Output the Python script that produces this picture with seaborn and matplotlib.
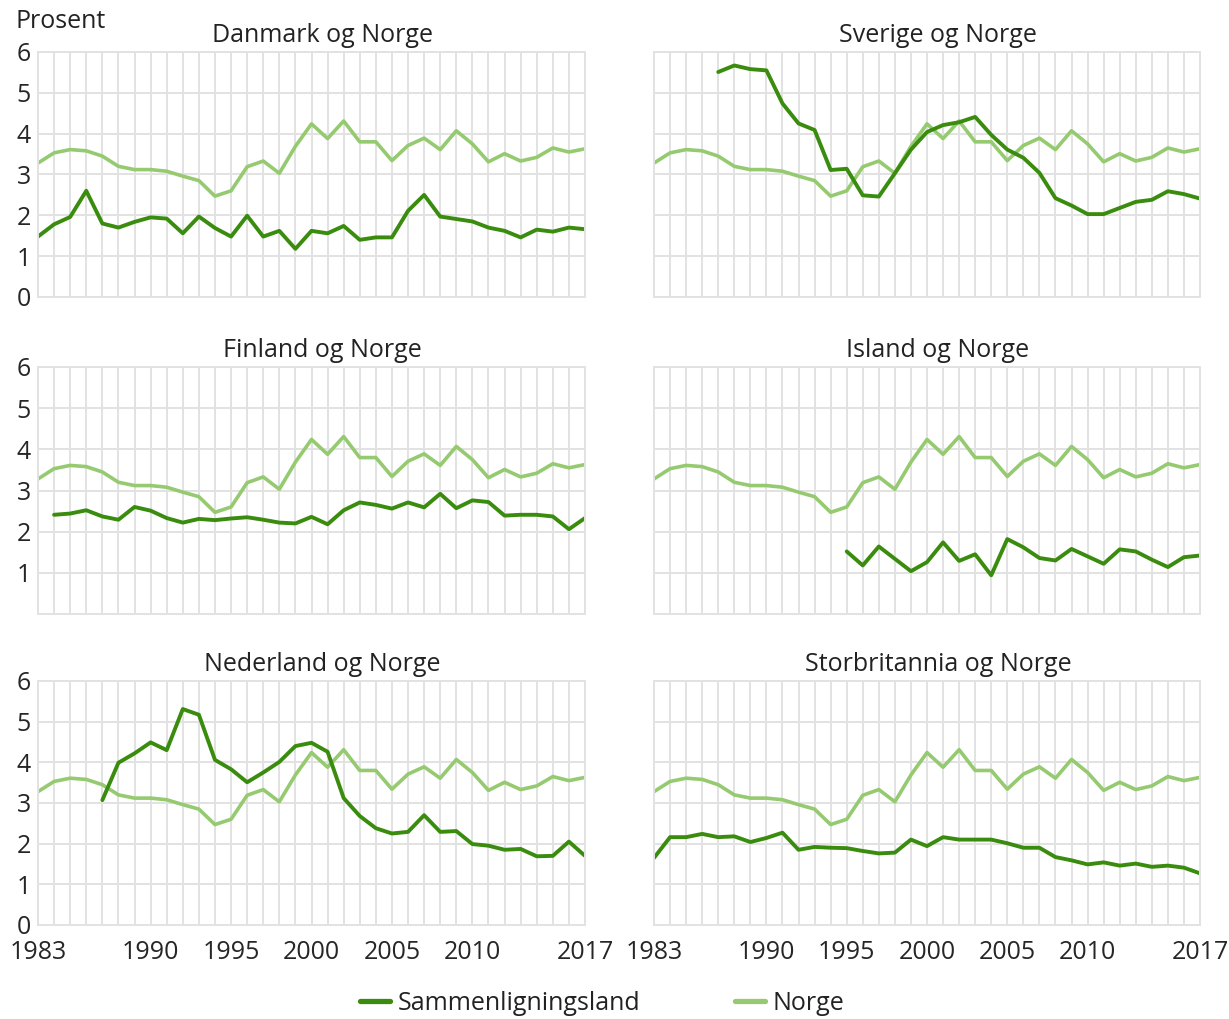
import numpy as np
import pandas as pd
import seaborn as sns
import matplotlib.pyplot as plt

# Years on the x axis
years = list(range(1983, 2018))

# Norge (same in every panel)
norge = [3.28, 3.53, 3.61, 3.58, 3.45, 3.20, 3.12, 3.12, 3.08, 2.96, 2.85, 2.47,
         2.60, 3.19, 3.33, 3.03, 3.69, 4.24, 3.88, 4.31, 3.80, 3.80, 3.34, 3.71,
         3.89, 3.61, 4.07, 3.75, 3.31, 3.51, 3.33, 3.42, 3.65, 3.55, 3.63]

danmark = [1.48, 1.78, 1.96, 2.60, 1.80, 1.70, 1.84, 1.95, 1.92, 1.56, 1.97, 1.69,
           1.48, 1.99, 1.48, 1.62, 1.18, 1.62, 1.56, 1.74, 1.40, 1.46, 1.46, 2.11,
           2.50, 1.97, 1.91, 1.85, 1.70, 1.62, 1.46, 1.65, 1.60, 1.70, 1.66]

sverige = [None, None, None, None, 5.51, 5.67, 5.58, 5.55, 4.74, 4.25, 4.09, 3.11,
           3.14, 2.49, 2.46, 3.03, 3.61, 4.04, 4.21, 4.28, 4.41, 3.97, 3.61, 3.41,
           3.04, 2.42, 2.24, 2.03, 2.03, 2.18, 2.33, 2.38, 2.59, 2.52, 2.41]

finland = [None, 2.41, 2.44, 2.52, 2.37, 2.29, 2.60, 2.51, 2.33, 2.22, 2.31, 2.28,
           2.32, 2.35, 2.29, 2.22, 2.20, 2.36, 2.18, 2.52, 2.71, 2.65, 2.56, 2.71,
           2.59, 2.92, 2.57, 2.76, 2.72, 2.39, 2.41, 2.41, 2.37, 2.06, 2.33]

island = [None] * 12 + [1.52, 1.18, 1.64, 1.34, 1.04, 1.26, 1.74, 1.29, 1.45, 0.94,
                        1.82, 1.62, 1.36, 1.30, 1.58, 1.40, 1.22, 1.57, 1.52, 1.32,
                        1.14, 1.38, 1.42]

nederland = [None, None, None, None, 3.07, 3.99, 4.22, 4.49, 4.30, 5.31, 5.17, 4.06,
             3.83, 3.51, 3.75, 4.01, 4.40, 4.48, 4.26, 3.12, 2.68, 2.38, 2.25, 2.29,
             2.70, 2.29, 2.31, 1.99, 1.95, 1.85, 1.87, 1.69, 1.70, 2.05, 1.70]

storbritannia = [1.65, 2.16, 2.16, 2.24, 2.16, 2.18, 2.04, 2.14, 2.27, 1.85, 1.92, 1.90,
                 1.89, 1.82, 1.76, 1.78, 2.10, 1.94, 2.16, 2.10, 2.10, 2.10, 2.01, 1.90,
                 1.90, 1.67, 1.59, 1.49, 1.54, 1.46, 1.51, 1.43, 1.46, 1.41, 1.27]

titles = ['Danmark og Norge', 'Sverige og Norge', 'Finland og Norge',
          'Island og Norge', 'Nederland og Norge', 'Storbritannia og Norge']
countries = [danmark, sverige, finland, island, nederland, storbritannia]

x_ticks = [1983, 1990, 1995, 2000, 2005, 2010, 2017]

dark = '#3a8c0e'
light = '#95ca70'
grid_col = '#e2e2e2'

sns.set_style('white')
plt.rcParams['font.family'] = ['Open Sans', 'DejaVu Sans']
plt.rcParams['text.color'] = '#222222'

fig = plt.figure(figsize=(12.29, 10.19), dpi=100)
W, H = 1229, 1019

# axes boxes in pixels: (left, right) and (top, bottom)
col_x = [(38, 585), (654, 1200)]
row_y = [(52, 297), (367, 614), (681, 925)]

for i, (title, vals) in enumerate(zip(titles, countries)):
    r, c = divmod(i, 2)
    x0, x1 = col_x[c]
    y0, y1 = row_y[r]
    ax = fig.add_axes([x0 / W, 1 - y1 / H, (x1 - x0) / W, (y1 - y0) / H])

    df = pd.DataFrame({'year': years,
                       'Norge': norge,
                       'land': np.array(vals, dtype=float)})
    sns.lineplot(data=df, x='year', y='Norge', ax=ax, color=light, lw=2.6)
    sns.lineplot(data=df, x='year', y='land', ax=ax, color=dark, lw=2.8)

    ax.set_xlim(1983, 2017)
    ax.set_ylim(0, 6)
    ax.set_xticks(years, minor=True)
    ax.set_xticks(x_ticks)
    ax.set_yticks(range(0, 7))
    ax.grid(True, which='both', color=grid_col, lw=1.4)
    ax.set_axisbelow(True)
    for s in ax.spines.values():
        s.set_color(grid_col)
        s.set_linewidth(1.4)
    ax.tick_params(which='both', length=0, labelsize=18)
    ax.tick_params(axis='y', pad=5)
    ax.tick_params(axis='x', pad=11)
    ax.set_xlabel('')
    ax.set_ylabel('')
    ax.set_title(title, fontsize=18, pad=7, x=0.52)

    if r < 2:
        ax.set_xticklabels([])
    if c == 1:
        ax.set_yticklabels([])
    elif r == 1:
        ax.set_yticklabels([''] + [str(v) for v in range(1, 7)])

fig.text(15 / W, 1 - 21 / H, 'Prosent', fontsize=18, va='center', ha='left')

handles = [plt.Line2D([], [], color=dark, lw=3.8),
           plt.Line2D([], [], color=light, lw=3.8)]
fig.legend(handles, ['Sammenligningsland', 'Norge'], loc='center',
           bbox_to_anchor=(0.49, 1 - 1003 / H), ncol=2, frameon=False,
           fontsize=18, handlelength=1.2, handletextpad=0.3, columnspacing=3.8)

fig.savefig('out.png', dpi=100)
